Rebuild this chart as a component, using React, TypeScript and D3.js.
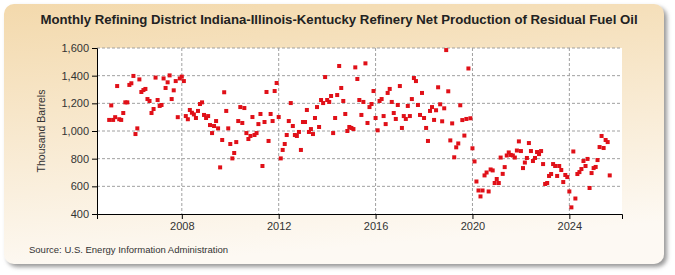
import React, { useRef, useEffect } from 'react';
import * as d3 from 'd3';

// monthly values, Jan 2005 onward (thousand barrels)
const startYear = 2005;
const production = [
  1080, 1185, 1080, 1100, 1325, 1085, 1080, 1130, 1207, 1207, 1333, 1345,
  1398, 978, 1019, 1373, 1282, 1296, 1304, 1231, 1217, 1130, 1159, 1386,
  1224, 1181, 1188, 1380, 1311, 1352, 1402, 1231, 1294, 1361, 1100, 1380,
  1393, 1361, 1108, 1085, 1152, 1132, 1120, 1094, 1145, 1195, 1207, 1116,
  1094, 1108, 1043, 985, 1036, 1072, 1019, 737, 935, 1280, 1145, 1019,
  906, 802, 841, 920, 1072, 1173, 1058, 1166, 985, 942, 964, 1101,
  971, 985, 1050, 1123, 747, 1065, 1282, 928, 1123, 1072, 1289, 1347,
  1101, 802, 863, 906, 971, 1072, 1202, 1036, 971, 964, 993, 863,
  1065, 1065, 1152, 993, 1014, 978, 1094, 1173, 1029, 1224, 1202, 1390,
  1224, 1210, 1253, 985, 1094, 1260, 1470, 1311, 1217, 1123, 1000, 1029,
  1022, 1014, 1460, 1376, 1224, 1116, 1210, 1489, 1058, 1173, 1195, 1289,
  1094, 1005, 1217, 1231, 1108, 1050, 1275, 1304, 1210, 1130, 1087, 1188,
  1325, 1022, 1108, 1087, 1181, 1108, 1231, 1383, 1361, 1188, 1116, 1275,
  1094, 1022, 928, 1145, 1173, 1080, 1150, 1316, 1193, 1070, 1164, 1585,
  1287, 932, 1055, 810, 882, 910, 1186, 1079, 967, 1087, 1452, 1092,
  875, 780, 635, 570, 527, 570, 679, 700, 563, 722, 715, 624,
  653, 624, 808, 690, 739, 823, 845, 827, 823, 808, 859, 925,
  855, 732, 772, 805, 913, 855, 783, 805, 848, 833, 855, 761,
  617, 624, 675, 689, 761, 747, 675, 747, 718, 631, 682, 667,
  563, 448, 852, 512, 689, 703, 725, 783, 747, 798, 588, 696,
  732, 740, 790, 884, 964, 877, 935, 920, 679,
];
const yearTicks = [2008, 2012, 2016, 2020, 2024];
const valueTicks = [400, 600, 800, 1000, 1200, 1400, 1600];

const W = 675;
const H = 275;
const font = 'Liberation Sans, Arial, sans-serif';

export default function App() {
  const svgRef = useRef<SVGSVGElement>(null);

  useEffect(() => {
    const svg = d3.select(svgRef.current);
    svg.selectAll('*').remove();

    const left = 97, right = 622, top = 48, bottom = 214;

    const defs = svg.append('defs');
    const grad = defs.append('linearGradient')
      .attr('id', 'card-bg')
      .attr('x1', '0%').attr('y1', '0%')
      .attr('x2', '20%').attr('y2', '100%');
    grad.append('stop').attr('offset', '0%').attr('stop-color', '#f3d9ac');
    grad.append('stop').attr('offset', '100%').attr('stop-color', '#fdf9f3');

    const shadow = defs.append('filter').attr('id', 'card-shadow')
      .attr('x', '-5%').attr('y', '-5%').attr('width', '110%').attr('height', '115%');
    shadow.append('feDropShadow')
      .attr('dx', 3).attr('dy', 3).attr('stdDeviation', 2)
      .attr('flood-color', '#777').attr('flood-opacity', 0.75);

    svg.append('rect')
      .attr('x', 4).attr('y', 4)
      .attr('width', 660).attr('height', 260)
      .attr('rx', 10)
      .attr('fill', 'url(#card-bg)')
      .attr('filter', 'url(#card-shadow)');

    const x = d3.scaleTime()
      .domain([new Date(2004, 6, 1), new Date(2026, 2, 5)])
      .range([left, right]);
    const y = d3.scaleLinear()
      .domain([400, 1600])
      .range([bottom, top]);

    svg.append('rect')
      .attr('x', left).attr('y', top)
      .attr('width', right - left).attr('height', bottom - top)
      .attr('fill', '#fff');

    // grid
    svg.append('g')
      .selectAll('line')
      .data(valueTicks.filter(v => v > 400))
      .join('line')
      .attr('x1', left).attr('x2', right)
      .attr('y1', d => y(d)).attr('y2', d => y(d))
      .attr('stroke', '#a0a0a0')
      .attr('stroke-dasharray', '3,2');
    svg.append('g')
      .selectAll('line')
      .data(yearTicks)
      .join('line')
      .attr('x1', d => x(new Date(d, 0, 1))).attr('x2', d => x(new Date(d, 0, 1)))
      .attr('y1', top).attr('y2', bottom)
      .attr('stroke', '#a0a0a0')
      .attr('stroke-dasharray', '3,2');

    const yAxis = svg.append('g')
      .attr('transform', `translate(${left},0)`)
      .call(d3.axisLeft(y).tickValues(valueTicks).tickFormat(d3.format(',')).tickSize(5).tickPadding(3));
    const xAxis = svg.append('g')
      .attr('transform', `translate(0,${bottom})`)
      .call(d3.axisBottom(x)
        .tickValues(yearTicks.map(d => new Date(d, 0, 1)))
        .tickFormat(d3.timeFormat('%Y') as any)
        .tickSize(5).tickPadding(3));
    [yAxis, xAxis].forEach(g => {
      g.selectAll('text').attr('font-family', font).attr('font-size', 11).attr('fill', '#333');
      g.selectAll('line').attr('stroke', '#000');
      g.select('.domain').attr('stroke', '#000');
    });

    svg.append('g')
      .selectAll('rect')
      .data(production)
      .join('rect')
      .attr('x', (d, i) => x(new Date(startYear, i, 1)) - 2)
      .attr('y', d => y(d) - 2)
      .attr('width', 4).attr('height', 4)
      .attr('fill', '#e01018');

    svg.append('text')
      .attr('x', 339).attr('y', 24)
      .attr('text-anchor', 'middle')
      .attr('font-family', font).attr('font-size', 13.2).attr('font-weight', 'bold')
      .attr('fill', '#222')
      .text('Monthly Refining District Indiana-Illinois-Kentucky Refinery Net Production of Residual Fuel Oil');

    svg.append('text')
      .attr('transform', `translate(45,${(top + bottom) / 2}) rotate(-90)`)
      .attr('text-anchor', 'middle')
      .attr('font-family', font).attr('font-size', 10.5)
      .attr('fill', '#333')
      .text('Thousand Barrels');

    svg.append('text')
      .attr('x', 29).attr('y', 253)
      .attr('font-family', font).attr('font-size', 9.5)
      .attr('fill', '#333')
      .text('Source: U.S. Energy Information Administration');
  }, []);

  return (
    <div style={{ position: 'absolute', left: 0, top: 0 }}>
      <svg ref={svgRef} width={W} height={H}></svg>
    </div>
  );
}
